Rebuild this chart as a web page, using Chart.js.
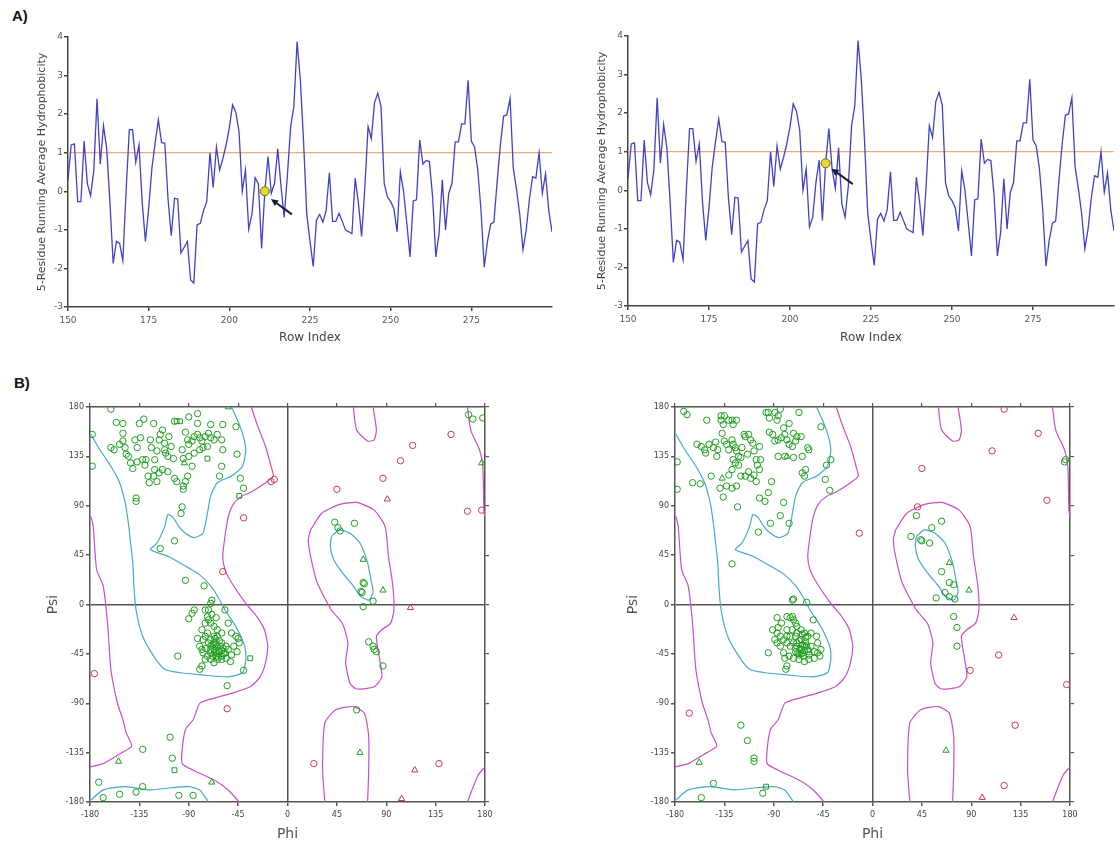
<!DOCTYPE html>
<html><head><meta charset="utf-8">
<script src="https://cdn.jsdelivr.net/npm/chart.js@4.4.1/dist/chart.umd.min.js"></script>
<style>
body{margin:0;background:#fff;width:1120px;height:844px;position:relative;overflow:hidden}
.box{position:absolute}
.lab{position:absolute;font:bold 15px "Liberation Sans",Arial,sans-serif;color:#111}
</style></head><body>
<div class="lab" style="left:12px;top:7px">A)</div>
<div class="lab" style="left:14px;top:374px">B)</div>
<div class="box" style="left:0;top:0"><canvas id="h1" width="560" height="350"></canvas></div>
<div class="box" style="left:560px;top:0"><canvas id="h2" width="560" height="350"></canvas></div>
<div class="box" style="left:0;top:370px"><canvas id="r1" width="560" height="474"></canvas></div>
<div class="box" style="left:580px;top:370px"><canvas id="r2" width="540" height="474"></canvas></div>
<script>
// ---------- Hydrophobicity data ----------
const rowIndex = [150,151,152,153,154,155,156,157,158,159,160,161,162,163,164,165,166,167,168,169,
170,171,172,173,174,175,176,177,178,179,180,181,182,183,184,185,186,187,188,189,
190,191,192,193,194,195,196,197,198,199,200,201,202,203,204,205,206,207,208,209,
210,211,212,213,214,215,216,217,218,219,220,221,222,223,224,225,226,227,228,229,
230,231,232,233,234,235,236,237,238,239,240,241,242,243,244,245,246,247,248,249,
250,251,252,253,254,255,256,257,258,259,260,261,262,263,264,265,266,267,268,269,
270,271,272,273,274,275,276,277,278,279,280,281,282,283,284,285,286,287,288,289,
290,291,292,293,294,295,296,297,298,299,300];
const leftValues = [0.3,1.2,1.23,-0.27,-0.27,1.3,0.2,-0.12,0.55,2.4,
0.7,1.7,1.1,-0.3,-1.87,-1.3,-1.35,-1.8,0.0,1.6,
1.6,0.75,1.2,-0.3,-1.3,-0.45,0.6,1.25,1.85,1.26,
1.25,-0.2,-1.15,-0.18,-0.2,-1.6,-1.45,-1.3,-2.3,-2.38,
-0.87,-0.83,-0.5,-0.27,1.0,0.1,1.15,0.55,0.85,1.2,
1.65,2.24,2.05,1.55,0.0,0.55,-0.98,-0.6,0.35,0.2,
-1.48,0.0,0.9,-0.05,0.2,1.1,0.15,-0.68,0.42,1.67,
2.2,3.88,2.9,1.3,-0.6,-1.3,-1.95,-0.75,-0.6,-0.8,
-0.5,0.48,-0.78,-0.78,-0.57,-0.78,-1.0,-1.05,-1.1,0.34,
-0.3,-1.17,0.1,1.68,1.37,2.3,2.54,2.2,0.2,-0.15,
-0.27,-0.45,-1.05,0.5,0.0,-0.83,-1.7,-0.25,-0.22,1.33,
0.7,0.8,0.77,-0.15,-1.7,-1.1,0.3,-1.0,-0.05,0.2,
1.28,1.28,1.75,1.75,2.88,1.3,1.15,0.55,-0.5,-1.97,
-1.3,-0.85,-0.8,0.25,1.2,1.95,1.98,2.4,0.6,0.05,
-0.6,-1.52,-1.0,-0.2,0.38,0.34,1.0,-0.05,0.45,-0.5,
-1.05];
const rightValues = [0.3,1.2,1.23,-0.27,-0.27,1.3,0.2,-0.12,0.55,2.4,
0.7,1.7,1.1,-0.3,-1.87,-1.3,-1.35,-1.8,0.0,1.6,
1.6,0.75,1.2,-0.3,-1.3,-0.45,0.6,1.25,1.85,1.26,
1.25,-0.2,-1.15,-0.18,-0.2,-1.6,-1.45,-1.3,-2.3,-2.38,
-0.87,-0.83,-0.5,-0.27,1.0,0.1,1.15,0.55,0.85,1.2,
1.65,2.24,2.05,1.55,0.0,0.55,-0.95,-0.7,0.2,0.78,
-0.78,0.7,1.6,0.55,0.05,1.1,-0.35,-0.7,0.1,1.67,
2.2,3.88,2.9,1.3,-0.6,-1.3,-1.95,-0.75,-0.6,-0.8,
-0.5,0.48,-0.78,-0.78,-0.57,-0.78,-1.0,-1.05,-1.1,0.34,
-0.3,-1.17,0.1,1.68,1.37,2.3,2.54,2.2,0.2,-0.15,
-0.27,-0.45,-1.05,0.5,0.0,-0.83,-1.7,-0.25,-0.22,1.33,
0.7,0.8,0.77,-0.15,-1.7,-1.1,0.3,-1.0,-0.05,0.2,
1.28,1.28,1.75,1.75,2.88,1.3,1.15,0.55,-0.5,-1.97,
-1.3,-0.85,-0.8,0.25,1.2,1.95,1.98,2.4,0.6,0.05,
-0.6,-1.52,-1.0,-0.2,0.38,0.34,1.0,-0.05,0.45,-0.5,
-1.05];
const thresholdValue = 1;
const xTickValues = [150,175,200,225,250,275];
const leftMarker = [211, 0.0];
const rightMarker = [211, 0.7];
const leftArrowTail = [219.4, -0.6], leftArrowHead = [212.9, -0.2];
const rightArrowTail = [219.4, 0.16], rightArrowHead = [212.8, 0.56];

// ---------- Ramachandran contours (phi, psi) ----------
const magentaA = [[-33,180],[-28,165],[-20,144],[-15,126],[-13,117],[-20,111],[-34,102],[-41,99],[-49,92],[-54,80],[-57,62],[-59,44],[-57,32],[-51,20],[-38,1],[-28,-11],[-21,-23],[-18,-38],[-20,-53],[-25,-66],[-34,-75],[-51,-81],[-73,-87],[-80,-90],[-86,-105],[-93,-114],[-96,-132],[-96,-145],[-86,-151],[-67,-160],[-54,-169],[-44,-180]];
const magentaB = [[-179,80],[-177,71],[-174,32],[-168,17],[-164,-17],[-161,-59],[-155,-90],[-150,-105],[-147,-117],[-142,-129],[-151,-135],[-168,-145],[-180,-148]];
const magentaC = [[60,180],[63,159],[73,149],[79,150],[81,159],[78,180]];
const magentaD = [[21,68],[31,83],[47,91],[63,93],[79,86],[89,71],[92,44],[96,17],[97,-5],[94,-17],[86,-23],[81,-29],[84,-50],[86,-66],[79,-75],[63,-77],[57,-72],[53,-53],[55,-35],[50,-17],[40,-5],[27,20],[21,44],[19,59],[21,68]];
const magentaE = [[34,-180],[32,-151],[34,-108],[44,-96],[60,-93],[70,-99],[74,-120],[74,-151],[73,-180]];
const magentaF = [[164,180],[167,159],[175,141],[178,126],[179,86],[180,80]];
const magentaG = [[180,-148],[174,-155],[167,-172],[164,-180]];
const cyanA = [[-179,155],[-171,141],[-161,126],[-153,111],[-148,93],[-145,74],[-143,56],[-141,38],[-140,17],[-138,-5],[-132,-29],[-122,-47],[-112,-59],[-99,-62],[-80,-64],[-54,-66],[-41,-62],[-38,-50],[-39,-38],[-44,-26],[-49,-17],[-57,-5],[-64,8],[-70,17],[-80,27],[-93,35],[-109,44],[-125,50],[-119,56],[-112,71],[-109,82],[-104,79],[-99,71],[-93,65],[-85,61],[-77,65],[-73,83],[-70,99],[-64,111],[-51,117],[-41,126],[-38,141],[-41,156],[-46,169],[-51,180]];
const cyanB = [[40,62],[47,68],[57,65],[66,56],[73,38],[76,23],[78,11],[74,4],[66,8],[60,17],[50,29],[42,41],[39,53],[40,62]];
const cyanC = [[-179,-178],[-168,-169],[-148,-166],[-125,-169],[-106,-167],[-90,-166],[-80,-169],[-72,-180]];
const ramaTicks = [-180,-135,-90,-45,0,45,90,135,180];

// ---------- Ramachandran residues: left ----------
const leftGeneral = [[-178,155],[-178,126],[-161,178],[-156,166],[-150,165],[-150,156],[-161,143],[-158,141],[-153,146],[-150,149],[-148,143],[-147,137],[-145,135],[-143,129],[-141,124],[-139,150],[-137,143],[-135,165],[-134,152],[-131,169],[-129,132],[-130,127],[-137,130],[-132,132],[-125,150],[-122,165],[-124,143],[-121,132],[-119,140],[-117,150],[-116,155],[-114,159],[-112,147],[-112,141],[-111,138],[-109,135],[-108,153],[-106,144],[-104,133],[-103,167],[-90,171],[-82,174],[-82,165],[-93,157],[-91,150],[-90,146],[-87,149],[-85,153],[-82,155],[-80,152],[-78,149],[-75,153],[-72,156],[-70,152],[-67,150],[-64,155],[-60,150],[-59,141],[-70,164],[-59,164],[-47,162],[-46,137],[-43,115],[-40,106],[-60,126],[-62,117],[-96,141],[-95,133],[-90,135],[-85,138],[-80,141],[-77,143],[-73,144],[-87,126],[-91,117],[-93,112],[-95,108],[-95,105],[-96,89],[-97,83],[-103,115],[-101,112],[-109,121],[-114,123],[-117,120],[-121,123],[-122,117],[-127,117],[-126,111],[-119,112],[-138,97],[-138,94],[-103,58],[-116,51],[-93,22],[-76,17],
[-40,-60],[-55,-74],[-100,-47],
[-107,-121],[-105,-140],[-132,-132],[-168,-176],[-172,-162],[-153,-173],[-138,-171],[-132,-166],[-99,-174],[-86,-174],
[-69,4],[-70,1],[-75,-5],[-73,-11],[-72,-14],[-70,-17],[-67,-20],[-64,-23],[-60,-26],[-57,-5],[-54,-17],[-51,-26],[-47,-29],[-45,-31],[-44,-35],[-49,-38],[-54,-41],[-57,-44],[-60,-47],[-64,-50],[-67,-53],[-70,-50],[-73,-47],[-77,-44],[-78,-41],[-80,-38],[-77,-32],[-75,-29],[-73,-26],[-70,-32],[-67,-35],[-64,-38],[-60,-35],[-64,-29],[-67,-29],[-70,-38],[-67,-41],[-62,-43],[-59,-40],[-82,-31],[-90,-13],[-87,-8],[-85,-5],[-52,-52],[-78,-56],[-80,-59],[-75,-50],[-70,-44],[-65,-47],[-60,-50],[-56,-49],[-51,-46],[-46,-43],[-72,-5],[-69,-9],[-65,-12],[-75,-17],[-78,-23],
[-63,-42],[-66,-44],[-61,-38],[-68,-37],[-64,-45],[-62,-33],[-58,-45],[-70,-41],[-66,-31],[-72,-35],[-56,-38],[-63,-48],[-68,-47],[-74,-40],[-60,-42],[-65,-36],
[43,75],[46,70],[48,67],[61,74],[69,20],[68,11],[70,19],[67,12],[78,3],[69,-2],[74,-34],[78,-38],[79,-41],[81,-43],[87,-56],
[165,173],[169,169],[178,170],[63,-96]];
const leftGly = [[-69,-162],[-154,-143],[-94,129],[-54,180],[69,41],[87,13],[177,129],[66,-135]];
const leftPro = [[-73,133],[-101,167],[-98,167],[-44,99],[-34,-49],[-103,-151]];
const leftOutlier = [[-15,112],[-12,114],[-40,79],[-59,30],[-55,-95],[-176,-63],[45,105],[87,115],[103,131],[114,145],[149,155],[164,85],[177,86],[24,-145],[138,-145]];
const leftOutlierGly = [[91,96],[112,-3],[116,-151],[104,-177]];

// ---------- Ramachandran residues: right ----------
const rightGeneral = [[-172,176],[-169,173],[-160,146],[-151,168],[-156,144],[-153,141],[-152,138],[-149,146],[-145,143],[-143,148],[-142,135],[-141,141],[-138,172],[-138,168],[-135,172],[-131,168],[-128,168],[-127,164],[-124,168],[-136,164],[-137,156],[-135,149],[-133,146],[-131,141],[-128,150],[-127,146],[-125,143],[-124,140],[-122,135],[-120,134],[-119,143],[-117,155],[-116,153],[-113,155],[-111,150],[-109,147],[-108,140],[-106,132],[-105,127],[-103,123],[-113,121],[-114,137],[-127,132],[-125,129],[-122,127],[-128,123],[-131,118],[-133,108],[-128,106],[-124,108],[-120,117],[-116,117],[-111,115],[-108,118],[-106,112],[-102,132],[-103,144],[-97,175],[-95,175],[-94,170],[-89,175],[-86,172],[-84,178],[-87,168],[-81,161],[-76,165],[-67,175],[-94,157],[-91,155],[-89,149],[-86,150],[-83,152],[-80,155],[-78,150],[-76,146],[-73,144],[-70,149],[-69,153],[-72,156],[-65,153],[-59,143],[-58,141],[-86,135],[-80,135],[-72,134],[-64,135],[-61,123],[-62,117],[-64,120],[-47,162],[-38,132],[-42,127],[-43,114],[-39,104],[-92,112],[-95,102],[-103,97],[-98,94],[-81,93],[-84,81],[-93,74],[-104,66],[-76,74],[-123,89],[-136,98],[-139,106],[-147,117],[-157,110],[-164,111],[-178,130],[-178,105],[-128,37],
[-73,4],[-72,5],[-60,2],[-87,-12],[-86,-21],[-83,-17],[-78,-11],[-75,-12],[-73,-11],[-72,-14],[-70,-17],[-69,-20],[-65,-23],[-62,-26],[-59,-29],[-56,-26],[-54,-14],[-51,-29],[-50,-35],[-47,-41],[-48,-47],[-53,-49],[-58,-50],[-62,-52],[-67,-50],[-72,-49],[-76,-47],[-80,-49],[-81,-44],[-84,-38],[-87,-35],[-89,-32],[-91,-23],[-95,-44],[-78,-56],[-79,-59],[-78,-35],[-75,-38],[-72,-35],[-69,-38],[-65,-41],[-62,-38],[-59,-41],[-56,-38],[-61,-34],[-65,-32],[-70,-29],[-75,-29],[-78,-29],[-81,-32],[-64,-44],[-67,-46],[-70,-43],[-58,-46],[-53,-43],[-50,-44],[-84,-29],[-87,-26],[-78,-23],[-73,-23],[-69,-26],[-64,-27],
[-66,-40],[-64,-37],[-68,-44],[-62,-42],[-60,-37],[-67,-33],[-63,-47],[-58,-43],[-70,-40],[-61,-30],[-65,-45],[-69,-35],
[40,81],[63,76],[54,70],[35,62],[44,59],[45,58],[52,56],[63,30],[70,20],[74,18],[58,6],[66,11],[70,7],[75,5],[74,-11],[77,-21],[77,-38],
[175,130],[176,132],
[-120,-110],[-114,-124],[-108,-140],[-108,-143],[-145,-163],[-156,-176],[-100,-172]];
const rightGly = [[-137,115],[-78,135],[-158,-144],[70,38],[88,13],[67,-133]];
const rightPro = [[-97,-166]];
const rightOutlier = [[-12,65],[45,124],[109,140],[120,178],[151,156],[159,95],[177,-73],[115,-46],[89,-60],[130,-110],[120,-165],[-167,-99],[41,89]];
const rightOutlierGly = [[129,-12],[100,-176]];

// ---------- drawing ----------
const FONT = 'DejaVu Sans';
function arrowPlugin(tail, head) {
  return {
    id: 'arrow',
    afterDatasetsDraw(chart) {
      const x = chart.scales.x, y = chart.scales.y, ctx = chart.ctx;
      const x0 = x.getPixelForValue(tail[0]), y0 = y.getPixelForValue(tail[1]);
      const x1 = x.getPixelForValue(head[0]), y1 = y.getPixelForValue(head[1]);
      const a = Math.atan2(y1 - y0, x1 - x0), L = 8;
      ctx.save();
      ctx.strokeStyle = '#1c1c3c'; ctx.fillStyle = '#1c1c3c'; ctx.lineWidth = 2;
      ctx.beginPath(); ctx.moveTo(x0, y0);
      ctx.lineTo(x1 - Math.cos(a) * 5, y1 - Math.sin(a) * 5); ctx.stroke();
      ctx.beginPath(); ctx.moveTo(x1, y1);
      ctx.lineTo(x1 - L * Math.cos(a - 0.45), y1 - L * Math.sin(a - 0.45));
      ctx.lineTo(x1 - L * Math.cos(a + 0.45), y1 - L * Math.sin(a + 0.45));
      ctx.closePath(); ctx.fill();
      ctx.restore();
    }
  };
}

function hydroChart(id, values, marker, tail, head, padTop, padRight, xHeight) {
  const pts = rowIndex.map((r, i) => ({x: r, y: values[i]}));
  const thr = [{x: rowIndex[0], y: thresholdValue}, {x: rowIndex[rowIndex.length - 1], y: thresholdValue}];
  return new Chart(document.getElementById(id), {
    type: 'line',
    data: {datasets: [
      {data: [{x: marker[0], y: marker[1]}], showLine: false, pointRadius: 4.5, pointBackgroundColor: '#e3dc22', pointBorderColor: '#6b6b2a', pointBorderWidth: 1, order: 0},
      {data: pts, borderColor: '#4242c8', borderWidth: 1.3, pointRadius: 0, tension: 0, order: 1},
      {data: thr, borderColor: '#eea97c', borderWidth: 1.3, pointRadius: 0, order: 2}
    ]},
    options: {
      responsive: false, animation: false, events: [],
      layout: {padding: {top: padTop, right: padRight, left: 0, bottom: 0}},
      plugins: {legend: {display: false}, tooltip: {enabled: false}},
      scales: {
        x: {type: 'linear', min: 150, max: 300,
          afterBuildTicks: s => { s.ticks = xTickValues.map(v => ({value: v})); },
          afterFit: s => { s.height = xHeight; },
          grid: {drawOnChartArea: false, tickLength: 4, tickColor: '#444', lineWidth: 1.5},
          border: {color: '#444', width: 1.5},
          ticks: {font: {family: FONT, size: 9}, color: '#555', padding: 4, maxRotation: 0},
          title: {display: true, text: 'Row Index', font: {family: FONT, size: 12}, color: '#444', padding: {top: 0, bottom: 5}}
        },
        y: {type: 'linear', min: -3, max: 4,
          afterFit: s => { s.width = 68; },
          grid: {drawOnChartArea: false, tickLength: 4, tickColor: '#444', lineWidth: 1.5},
          border: {color: '#444', width: 1.5},
          ticks: {stepSize: 1, font: {family: FONT, size: 9}, color: '#555', padding: 1},
          title: {display: true, text: '5-Residue Running Average Hydrophobicity', font: {family: FONT, size: 11}, color: '#444', padding: {top: 36, bottom: 0}}
        }
      }
    },
    plugins: [arrowPlugin(tail, head)]
  });
}

function ramaChart(id, general, gly, pro, outl, outlGly, yWidth, y2Width) {
  const xy = a => a.map(p => ({x: p[0], y: p[1]}));
  const contour = (arr, color) => ({data: xy(arr), showLine: true, borderColor: color, borderWidth: 1.2, pointRadius: 0, tension: 0.2, fill: false, order: 5});
  const pts = (arr, color, style, r) => ({data: xy(arr), showLine: false, pointStyle: style, pointRadius: r, pointBorderColor: color, pointBackgroundColor: 'rgba(0,0,0,0)', pointBorderWidth: 1, order: 0});
  const MAG = '#c74fc7', CY = '#47a8cc', GR = '#1f9e1f', RD = '#c43c4a';
  const tickSet = s => { s.ticks = ramaTicks.map(v => ({value: v})); };
  const gridZero = {color: c => (c.tick && c.tick.value === 0) ? '#555' : 'rgba(0,0,0,0)', lineWidth: 1.5, tickLength: 4, tickColor: '#555'};
  const side = {drawOnChartArea: false, tickLength: 4, tickColor: '#555', lineWidth: 1.2};
  return new Chart(document.getElementById(id), {
    type: 'scatter',
    data: {datasets: [
      pts(general, GR, 'circle', 3.2), pts(gly, GR, 'triangle', 3.6), pts(pro, GR, 'rect', 3.4),
      pts(outl, RD, 'circle', 3.2), pts(outlGly, RD, 'triangle', 3.6),
      contour(magentaA, MAG), contour(magentaB, MAG), contour(magentaC, MAG), contour(magentaD, MAG),
      contour(magentaE, MAG), contour(magentaF, MAG), contour(magentaG, MAG),
      contour(cyanA, CY), contour(cyanB, CY), contour(cyanC, CY)
    ]},
    options: {
      responsive: false, animation: false, events: [],
      layout: {padding: 0},
      plugins: {legend: {display: false}, tooltip: {enabled: false}},
      scales: {
        x: {type: 'linear', position: 'bottom', min: -180, max: 180, afterBuildTicks: tickSet,
          afterFit: s => { s.height = 42; }, grid: gridZero, border: {color: '#555', width: 1.5},
          ticks: {font: {family: FONT, size: 8}, color: '#444', padding: 4, maxRotation: 0},
          title: {display: true, text: 'Phi', font: {family: FONT, size: 14}, color: '#555', padding: {top: 0, bottom: 1}}
        },
        x2: {type: 'linear', position: 'top', axis: 'x', min: -180, max: 180, afterBuildTicks: tickSet,
          afterFit: s => { s.height = 37; }, grid: side, border: {color: '#555', width: 1.5},
          ticks: {display: false}
        },
        y: {type: 'linear', position: 'left', min: -180, max: 180, afterBuildTicks: tickSet,
          afterFit: s => { s.width = yWidth; }, grid: gridZero, border: {color: '#555', width: 1.5},
          ticks: {font: {family: FONT, size: 8}, color: '#444', padding: 2},
          title: {display: true, text: 'Psi', font: {family: FONT, size: 14}, color: '#555', padding: {top: 45, bottom: 0}}
        },
        y2: {type: 'linear', position: 'right', axis: 'y', min: -180, max: 180, afterBuildTicks: tickSet,
          afterFit: s => { s.width = y2Width; }, grid: side, border: {color: '#555', width: 1.5},
          ticks: {display: false}
        }
      }
    }
  });
}

hydroChart('h1', leftValues, leftMarker, leftArrowTail, leftArrowHead, 37, 8, 43);
hydroChart('h2', rightValues, rightMarker, rightArrowTail, rightArrowHead, 36, 6, 44);
ramaChart('r1', leftGeneral, leftGly, leftPro, leftOutlier, leftOutlierGly, 90, 75);
ramaChart('r2', rightGeneral, rightGly, rightPro, rightOutlier, rightOutlierGly, 95, 50);
</script>
</body></html>
